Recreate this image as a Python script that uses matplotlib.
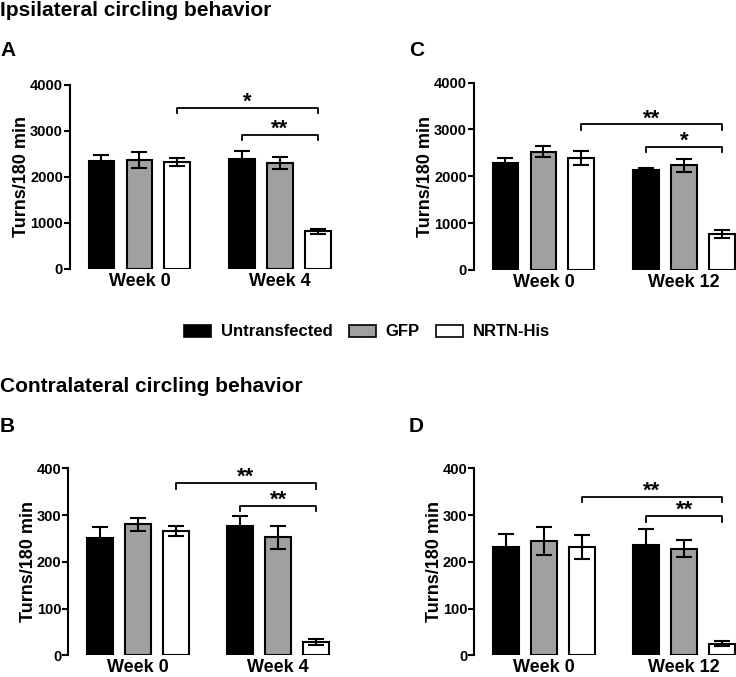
import matplotlib.pyplot as plt
from matplotlib.patches import Patch

plt.rcParams['font.family'] = ['Liberation Sans', 'DejaVu Sans']
plt.rcParams['font.weight'] = 'bold'

groups = ['Untransfected', 'GFP', 'NRTN-His']
colors = ['black', '#a0a0a0', 'white']

# bar order: week 0 (Unt, GFP, NRTN), later week (Unt, GFP, NRTN)
a_means = [2355, 2370, 2325, 2395, 2305, 820]
a_errs = [120, 170, 95, 180, 135, 50]
a_weeks = ['Week 0', 'Week 4']
a_sig = [(2, 5, 3510, '*'), (3, 5, 2920, '**')]

c_means = [2275, 2530, 2395, 2135, 2240, 765]
c_errs = [120, 120, 150, 40, 140, 85]
c_weeks = ['Week 0', 'Week 12']
c_sig = [(2, 5, 3110, '**'), (3, 5, 2635, '*')]

b_means = [250, 280, 266, 276, 252, 28]
b_errs = [24, 14, 11, 21, 24, 6]
b_weeks = ['Week 0', 'Week 4']
b_sig = [(2, 5, 368, '**'), (3, 5, 320, '**')]

d_means = [231, 245, 232, 235, 228, 25]
d_errs = [29, 30, 25, 35, 18, 6]
d_weeks = ['Week 0', 'Week 12']
d_sig = [(2, 5, 339, '**'), (3, 5, 298, '**')]

positions = [0, 1, 2, 3.7, 4.7, 5.7]


def draw_panel(ax, means, errs, weeks, sig, ymax):
    ax.bar(positions, means, width=0.68, color=colors * 2,
           edgecolor='black', linewidth=1.5, zorder=2)
    ax.errorbar(positions, means, yerr=errs, fmt='none', ecolor='black',
                elinewidth=1.5, capsize=6, capthick=1.5, zorder=3)
    ax.set_xlim(-0.83, 6.1)
    ax.set_ylim(0, ymax)
    ax.set_yticks([ymax / 4 * i for i in range(5)])
    ax.set_yticklabels([str(int(ymax / 4 * i)) for i in range(5)],
                       fontsize=10.5, fontweight='bold')
    ax.set_xticks([1, 4.7])
    ax.set_xticklabels(weeks, fontsize=13, fontweight='bold')
    ax.tick_params(axis='x', length=0, pad=3)
    ax.tick_params(axis='y', length=4, width=1.5, pad=1)
    for side in ['top', 'right', 'bottom']:
        ax.spines[side].set_visible(False)
    ax.spines['left'].set_linewidth(1.5)
    ax.set_ylabel('Turns/180 min', fontsize=13, fontweight='bold', labelpad=0)
    drop = ymax * 0.03
    for i, j, y, label in sig:
        x0, x1 = positions[i], positions[j]
        ax.plot([x0, x0, x1, x1], [y - drop, y, y, y - drop], color='black',
                lw=1.3, clip_on=False)
        ax.text((x0 + x1) / 2, y + ymax * 0.03, label, ha='center',
                va='center', fontsize=16, fontweight='bold')


fig = plt.figure(figsize=(7.36, 6.77), dpi=100)

ax_a = fig.add_axes([0.0951, 0.6027, 0.3573, 0.2718])
ax_c = fig.add_axes([0.6440, 0.6012, 0.3573, 0.2767])
ax_b = fig.add_axes([0.0928, 0.0321, 0.3573, 0.2762])
ax_d = fig.add_axes([0.6444, 0.0321, 0.3573, 0.2762])

draw_panel(ax_a, a_means, a_errs, a_weeks, a_sig, 4000)
draw_panel(ax_c, c_means, c_errs, c_weeks, c_sig, 4000)
draw_panel(ax_b, b_means, b_errs, b_weeks, b_sig, 400)
draw_panel(ax_d, d_means, d_errs, d_weeks, d_sig, 400)

fig.text(0.0, 1 - 10 / 677, 'Ipsilateral circling behavior', fontsize=15,
         fontweight='bold', va='center', ha='left')
fig.text(0.0, 1 - 386 / 677, 'Contralateral circling behavior',
         fontsize=15, fontweight='bold', va='center', ha='left')
for label, x, y in [('A', 0, 51), ('C', 409, 50), ('B', 0, 426), ('D', 409, 426)]:
    fig.text(x / 736, 1 - y / 677, label, fontsize=15, fontweight='bold',
             va='center', ha='left')

handles = [Patch(facecolor=c, edgecolor='black', linewidth=1.2) for c in colors]
fig.legend(handles, groups, loc='center', bbox_to_anchor=(367 / 736, 1 - 332 / 677),
           ncol=3, frameon=False, handlelength=1.6, handleheight=0.7,
           handletextpad=0.6, columnspacing=1.0,
           prop={'size': 12, 'weight': 'bold'})

fig.savefig('out.png', dpi=100)
